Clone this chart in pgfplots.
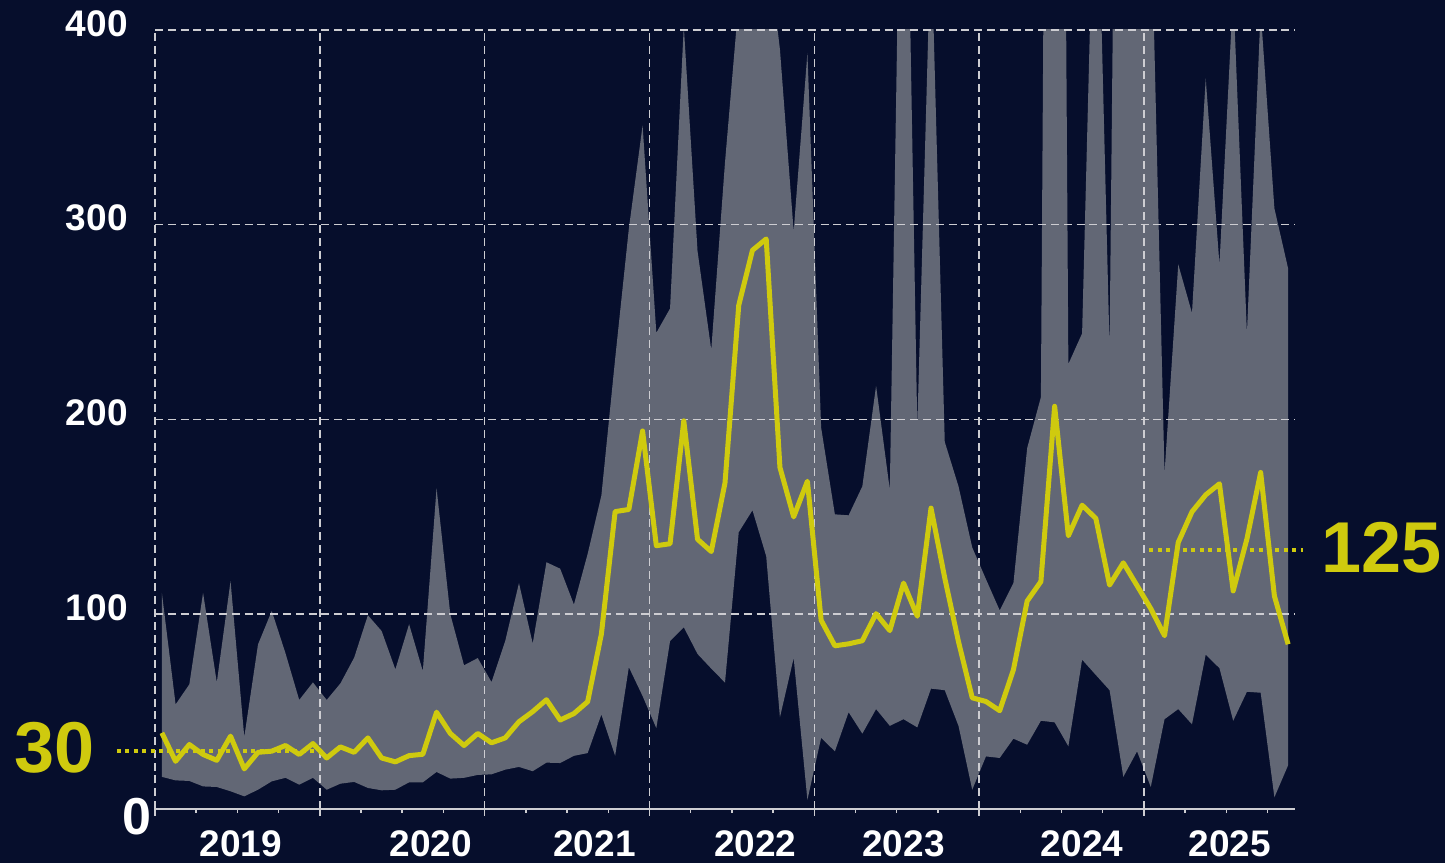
\documentclass[border=0pt]{standalone}
\usepackage{fontspec}
\setmainfont{Liberation Sans}
\usepackage{xcolor}
\usepackage{pgfplots}
\pgfplotsset{compat=1.18}
\usepackage{pgfplotstable}
\usepgfplotslibrary{fillbetween}
\definecolor{bgnavy}{RGB}{6,14,44}
\definecolor{band}{RGB}{98,103,117}
\definecolor{gridc}{RGB}{205,205,210}
\definecolor{ylw}{RGB}{207,202,14}

\pgfplotsset{layers/mylayers/.define layer set={axis background,pre main,axis grid,axis ticks,axis lines,axis tick labels,main,axis descriptions,axis foreground}{}}

\pgfplotstableread{
x lo med up
0.5 16.5 39.1 111
1.5 14.7 24.5 53.7
2.5 14.4 33.1 64
3.5 11.6 28 111
4.5 11.3 25 65
5.5 9.1 37.4 117
6.5 6.5 20.6 37
7.5 9.9 29.1 84.5
8.5 14.2 29.7 101.7
9.5 16 32.6 80
10.5 12.5 28 56
11.5 16 33.6 65
12.5 9.9 26.2 56
13.5 13 31.9 64.5
14.5 13.9 29.1 77.7
15.5 10.8 36.5 99.5
16.5 9.6 26.2 91.4
17.5 9.9 24.2 71.7
18.5 13.7 27.4 94.9
19.5 13.7 28.1 70.8
20.5 19 49.7 164.7
21.5 15.6 38.8 100
22.5 16 32.6 73.8
23.5 17.5 38.8 77.5
24.5 17.8 34 65.2
25.5 20.2 36.5 86.3
26.5 21.6 44.8 116
27.5 19.4 50 85
28.5 23.8 56.1 126.7
29.5 23.6 45.7 123.4
30.5 27.3 49 105
31.5 28.7 55.1 131
32.5 48.5 89.8 161
33.5 27.3 152.7 231
34.5 72.8 153.8 298
35.5 58 194.1 351
36.5 41.5 135.2 244.5
37.5 86.2 136.2 257
38.5 93.3 199.3 402
39.5 79.6 138.5 286.5
40.5 72.1 132.2 235.8
41.5 64.9 167.5 332
42.5 142.1 258.6 415
43.5 153.4 286.9 450
44.5 129.8 292.7 450
45.5 47.1 175.4 390
46.5 77.5 150 296.6
47.5 4.7 168.3 388.2
48.5 36.6 96.9 195.8
49.5 29.6 83.8 151.3
50.5 49.7 84.8 150.8
51.5 38.7 86.4 165.7
52.5 51.3 100.3 217.3
53.5 42.7 91.6 163.9
54.5 46.1 116 600
55.5 41.9 99 195.8
56.5 61.8 154.5 450
57.5 61 118.6 188.5
58.5 42.7 85.9 165.7
59.5 9.9 57.1 134.3
60.5 27 55.2 118
61.5 26.2 50.5 102
62.5 36.1 71.5 116
63.5 33 106.8 185.3
64.5 45.3 116.8 211.5
65.5 44.5 206.8 1300
66.5 32.2 140.3 228.5
67.5 76.7 156 244.2
68.5 68.8 149.2 520
69.5 61 115 236.4
70.5 16.5 126.4 950
71.5 29.6 114.7 600
72.5 11.3 102.9 470
73.5 46.1 89 172.3
74.5 51.3 136.9 279.6
75.5 43.5 152.6 254.7
76.5 79.3 161.3 375.1
77.5 72.3 167 279.6
78.5 45.3 112 420
79.5 60.2 138.7 244.2
80.5 59.7 172.8 410
81.5 6 109.4 308.4
82.5 22.5 84.6 277.5
}\data

\pagecolor{bgnavy}

\begin{document}
\begin{tikzpicture}
\begin{axis}[
  set layers=mylayers,
  at={(0,0)}, anchor=south west,
  scale only axis, width=570bp, height=389.5bp,
  xmin=0, xmax=83, ymin=0, ymax=400,
  axis x line*=bottom, axis y line*=left,
  x axis line style={gridc, line width=0.75bp},
  y axis line style={draw=none},
  xtick={0,12,24,36,48,60,72},
  xticklabels={,,,,,,},
  minor xtick={3,6,9,15,18,21,27,30,33,39,42,45,51,54,57,63,66,69,75,78,81},
  ytick={100,200,300,400},
  xmajorgrids, ymajorgrids,
  major grid style={gridc, line width=0.75bp, dash pattern=on 4bp off 2.4bp},
  tick align=outside,
  tick style={gridc, line width=0.75bp},
  ytick style={draw=none},
  major tick length=3.5bp, minor tick length=2bp,
  extra x ticks={6.25,20.07,32,43.7,54.5,67.5,78.25},
  extra x tick labels={2019,2020,2021,2022,2023,2024,2025},
  extra x tick style={grid=none, major tick length=0pt},
  /pgf/number format/assume math mode=true,
  ticklabel style={font=\bfseries\fontsize{18.5bp}{20bp}\selectfont, text=white},
  yticklabel style={anchor=east, inner sep=0pt, xshift=-10bp, yshift=3.25bp},
  xticklabel style={anchor=north, inner sep=0pt, yshift=-10.5bp},
]
\addplot[name path=up, draw=none, forget plot] table[x=x, y=up]{\data};
\addplot[name path=lo, draw=none, forget plot] table[x=x, y=lo]{\data};
\addplot[band, draw=none] fill between[of=up and lo];

\coordinate (L1) at (axis cs:-2.76,30);
\coordinate (L2) at (axis cs:12,30);
\coordinate (R1) at (axis cs:72.4,133);
\coordinate (R2) at (axis cs:83.6,133);
\coordinate (T30) at (axis cs:-4.36,31.5);
\coordinate (T125) at (axis cs:84.87,134);
\coordinate (Z) at (rel axis cs:0,0);

\addplot[ylw, line width=2.5bp, line join=round] table[x=x, y=med]{\data};
\end{axis}
\begin{scope}
\draw[ylw, line width=2bp, dash pattern=on 2bp off 2.2bp] (L1) -- (L2);
\draw[ylw, line width=2bp, dash pattern=on 2bp off 2.2bp] (R1) -- (R2);
\node[anchor=east, text=ylw, inner sep=0pt, font=\bfseries\fontsize{36bp}{40bp}\selectfont] at (T30) {30};
\node[anchor=west, text=ylw, inner sep=0pt, font=\bfseries\fontsize{36bp}{40bp}\selectfont] at (T125) {125};
\node[anchor=east, text=white, inner sep=0pt, xshift=-1.5bp, yshift=-3.75bp, font=\bfseries\fontsize{26bp}{28bp}\selectfont] at (Z) {0};
\end{scope}
\pgfresetboundingbox
\path (-77.5bp,-27bp) rectangle (645bp,404.5bp);
\end{tikzpicture}
\end{document}
